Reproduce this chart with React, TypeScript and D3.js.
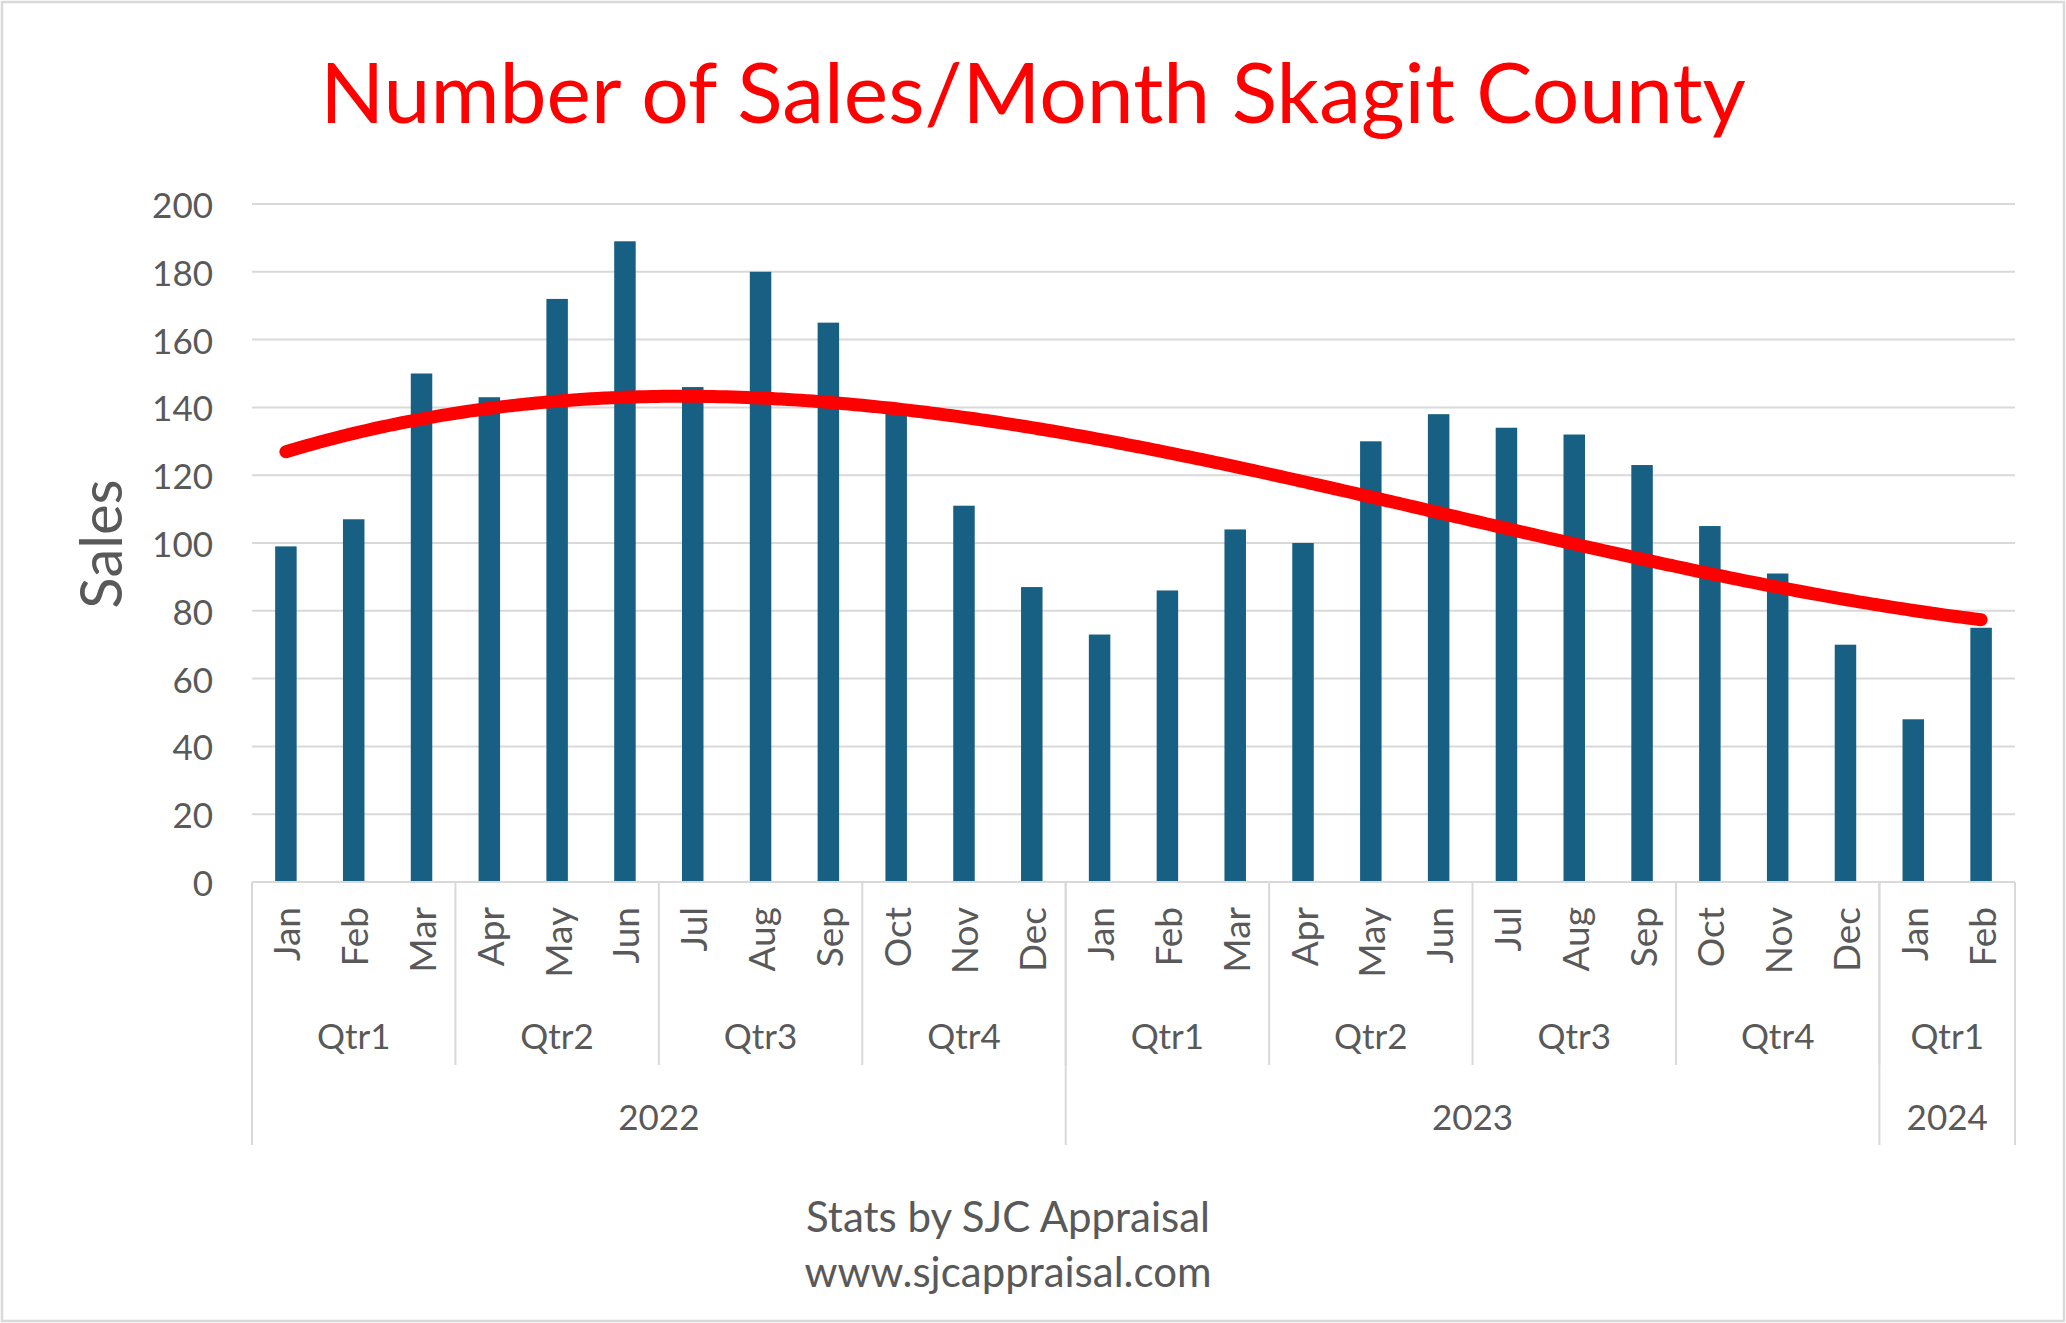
import React from "react";
import * as d3 from "d3";

const monthLabels = ["Jan","Feb","Mar","Apr","May","Jun","Jul","Aug","Sep","Oct","Nov","Dec","Jan","Feb","Mar","Apr","May","Jun","Jul","Aug","Sep","Oct","Nov","Dec","Jan","Feb"];
const quarterLabels = ["Qtr1","Qtr1","Qtr1","Qtr2","Qtr2","Qtr2","Qtr3","Qtr3","Qtr3","Qtr4","Qtr4","Qtr4","Qtr1","Qtr1","Qtr1","Qtr2","Qtr2","Qtr2","Qtr3","Qtr3","Qtr3","Qtr4","Qtr4","Qtr4","Qtr1","Qtr1"];
const yearLabels = ["2022","2022","2022","2022","2022","2022","2022","2022","2022","2022","2022","2022","2023","2023","2023","2023","2023","2023","2023","2023","2023","2023","2023","2023","2024","2024"];
const sales = [99,107,150,143,172,189,146,180,165,139,111,87,73,86,104,100,130,138,134,132,123,105,91,70,48,75];
const yTicks = [0,20,40,60,80,100,120,140,160,180,200];

const W = 2066, H = 1323;
const FONT = "Lato, 'Open Sans', sans-serif";
const GRAY = "#595959";
const LINE = "#D9D9D9";

function polyFit(xs: number[], ys: number[], order: number) {
  const n = order + 1;
  const A: number[][] = Array.from({ length: n }, () => new Array(n + 1).fill(0));
  for (let r = 0; r < n; r++) {
    for (let c = 0; c < n; c++) A[r][c] = d3.sum(xs, (x) => Math.pow(x, r + c));
    A[r][n] = d3.sum(xs, (x, i) => ys[i] * Math.pow(x, r));
  }
  for (let i = 0; i < n; i++) {
    let p = i;
    for (let k = i + 1; k < n; k++) if (Math.abs(A[k][i]) > Math.abs(A[p][i])) p = k;
    [A[i], A[p]] = [A[p], A[i]];
    for (let k = i + 1; k < n; k++) {
      const f = A[k][i] / A[i][i];
      for (let j = i; j <= n; j++) A[k][j] -= f * A[i][j];
    }
  }
  const coef = new Array(n).fill(0);
  for (let i = n - 1; i >= 0; i--) {
    let s = A[i][n];
    for (let j = i + 1; j < n; j++) s -= A[i][j] * coef[j];
    coef[i] = s / A[i][i];
  }
  return (x: number) => coef.reduce((acc, c, i) => acc + c * Math.pow(x, i), 0);
}

function groups(labels: string[]) {
  const out: { label: string; start: number; end: number }[] = [];
  labels.forEach((l, i) => {
    const last = out[out.length - 1];
    if (last && last.label === l && !(labels === quarterLabels && yearLabels[i] !== yearLabels[last.start])) last.end = i;
    else out.push({ label: l, start: i, end: i });
  });
  return out;
}

export default function App() {
  const left = 252, right = 2015, top = 204, bottom = 882;
  const idx = sales.map((_, i) => i);
  const xBand = d3.scaleBand<number>().domain(idx).range([left, right]).paddingInner(0.683).paddingOuter(0.3415);
  const step = xBand.step();
  const cx = (i: number) => (xBand(i) as number) + xBand.bandwidth() / 2;
  const y = d3.scaleLinear().domain([0, 200]).range([bottom, top]);

  const xs = idx.map((i) => i + 1);
  const fit = polyFit(xs.map((x) => x - 13.5), sales, 3);
  const xLin = d3.scaleLinear().domain([1, 26]).range([cx(0), cx(25)]);
  const pts = d3.range(1, 26.001, 0.1).map((x) => [xLin(x), y(fit(x - 13.5))] as [number, number]);
  const linePath = d3.line().curve(d3.curveMonotoneX)(pts) || "";

  const qGroups = groups(quarterLabels);
  const yGroups = groups(yearLabels);
  const edge = (i: number) => left + i * step;

  const qRowBottom = 1065, yRowBottom = 1145;

  return (
    <svg width={W} height={H} style={{ position: "absolute", left: 0, top: 0, background: "#fff" }} fontFamily={FONT}>
      <rect x={2} y={2} width={W - 4} height={H - 4} fill="#fff" stroke={LINE} strokeWidth={2.5} />
      <text x={1033} y={123} textAnchor="middle" fill="#FF0000" fontSize={84}>Number of Sales/Month Skagit County</text>

      {yTicks.map((t) => (
        <g key={t}>
          <line x1={left} x2={right} y1={y(t)} y2={y(t)} stroke={LINE} strokeWidth={2} />
          <text x={213} y={y(t)} textAnchor="end" dominantBaseline="central" fill={GRAY} fontSize={35}>{t}</text>
        </g>
      ))}
      <text transform={`translate(99,544) rotate(-90)`} textAnchor="middle" dominantBaseline="central" fill={GRAY} fontSize={58}>Sales</text>

      {sales.map((v, i) => (
        <rect key={i} x={xBand(i)} y={y(v)} width={xBand.bandwidth()} height={y(0) - y(v)} fill="#176083" />
      ))}

      <path d={linePath} fill="none" stroke="#FF0000" strokeWidth={13} strokeLinecap="round" strokeLinejoin="round" />

      <line x1={left} x2={right} y1={bottom} y2={bottom} stroke={LINE} strokeWidth={2} />
      {monthLabels.map((m, i) => (
        <text key={i} transform={`translate(${cx(i)},907) rotate(-90)`} textAnchor="end" dominantBaseline="central" fill={GRAY} fontSize={37}>{m}</text>
      ))}
      {qGroups.map((g, k) => (
        <g key={k}>
          <line x1={edge(g.start)} x2={edge(g.start)} y1={bottom} y2={qRowBottom} stroke={LINE} strokeWidth={2} />
          <text x={(edge(g.start) + edge(g.end + 1)) / 2} y={1049} textAnchor="middle" fill={GRAY} fontSize={35}>{g.label}</text>
        </g>
      ))}
      {yGroups.map((g, k) => (
        <g key={k}>
          <line x1={edge(g.start)} x2={edge(g.start)} y1={bottom} y2={yRowBottom} stroke={LINE} strokeWidth={2} />
          <text x={(edge(g.start) + edge(g.end + 1)) / 2} y={1130} textAnchor="middle" fill={GRAY} fontSize={35}>{g.label}</text>
        </g>
      ))}
      <line x1={right} x2={right} y1={bottom} y2={yRowBottom} stroke={LINE} strokeWidth={2} />

      <text x={1008} y={1232} textAnchor="middle" fill={GRAY} fontSize={42}>Stats by SJC Appraisal</text>
      <text x={1008} y={1287} textAnchor="middle" fill={GRAY} fontSize={42}>www.sjcappraisal.com</text>
    </svg>
  );
}
